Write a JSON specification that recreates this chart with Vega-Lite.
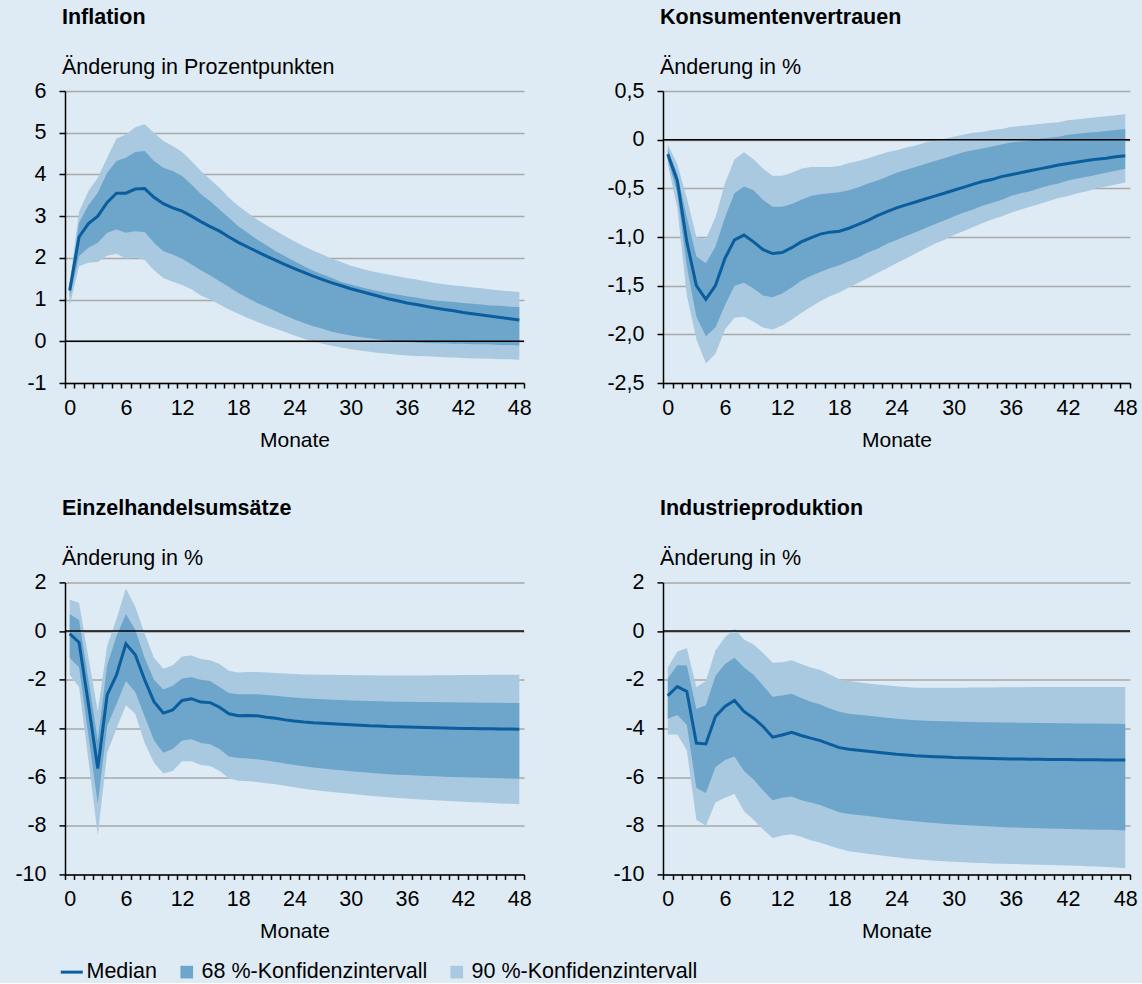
{
"$schema": "https://vega.github.io/schema/vega-lite/v6.json",
"background": "#deebf4",
"padding": {"left": 14, "top": 7, "right": 5, "bottom": 0},
"bounds": "flush",
"columns": 2,
"spacing": {"column": 139, "row": 199.4},
"resolve": {"scale": {"x": "independent", "y": "independent"}},
"datasets": {"d": [
{"p":"I","m":0,"md":1.22,"l68":1.05,"h68":1.32,"l90":0.85,"h90":1.4},
{"p":"I","m":1,"md":2.5,"l68":2.04,"h68":2.84,"l90":1.8,"h90":3.1},
{"p":"I","m":2,"md":2.82,"l68":2.24,"h68":3.26,"l90":1.88,"h90":3.6},
{"p":"I","m":3,"md":3.0,"l68":2.36,"h68":3.56,"l90":1.9,"h90":3.92},
{"p":"I","m":4,"md":3.33,"l68":2.6,"h68":4.04,"l90":2.05,"h90":4.4},
{"p":"I","m":5,"md":3.55,"l68":2.68,"h68":4.32,"l90":2.1,"h90":4.86},
{"p":"I","m":6,"md":3.55,"l68":2.6,"h68":4.4,"l90":1.98,"h90":4.96},
{"p":"I","m":7,"md":3.65,"l68":2.64,"h68":4.54,"l90":2.0,"h90":5.13},
{"p":"I","m":8,"md":3.66,"l68":2.62,"h68":4.56,"l90":1.95,"h90":5.2},
{"p":"I","m":9,"md":3.45,"l68":2.36,"h68":4.32,"l90":1.7,"h90":5.0},
{"p":"I","m":10,"md":3.3,"l68":2.16,"h68":4.16,"l90":1.52,"h90":4.8},
{"p":"I","m":11,"md":3.2,"l68":2.08,"h68":4.08,"l90":1.43,"h90":4.68},
{"p":"I","m":12,"md":3.12,"l68":1.98,"h68":3.96,"l90":1.35,"h90":4.54},
{"p":"I","m":13,"md":3.0,"l68":1.84,"h68":3.76,"l90":1.25,"h90":4.32},
{"p":"I","m":14,"md":2.87,"l68":1.7,"h68":3.53,"l90":1.1,"h90":4.08},
{"p":"I","m":15,"md":2.75,"l68":1.58,"h68":3.36,"l90":1.0,"h90":3.88},
{"p":"I","m":16,"md":2.64,"l68":1.44,"h68":3.16,"l90":0.88,"h90":3.68},
{"p":"I","m":17,"md":2.5,"l68":1.3,"h68":2.96,"l90":0.76,"h90":3.44},
{"p":"I","m":18,"md":2.37,"l68":1.16,"h68":2.76,"l90":0.66,"h90":3.25},
{"p":"I","m":19,"md":2.26,"l68":1.04,"h68":2.6,"l90":0.56,"h90":3.08},
{"p":"I","m":20,"md":2.15,"l68":0.92,"h68":2.44,"l90":0.47,"h90":2.92},
{"p":"I","m":21,"md":2.04,"l68":0.82,"h68":2.3,"l90":0.38,"h90":2.78},
{"p":"I","m":22,"md":1.94,"l68":0.72,"h68":2.16,"l90":0.3,"h90":2.65},
{"p":"I","m":23,"md":1.84,"l68":0.62,"h68":2.04,"l90":0.22,"h90":2.52},
{"p":"I","m":24,"md":1.74,"l68":0.52,"h68":1.92,"l90":0.14,"h90":2.4},
{"p":"I","m":25,"md":1.65,"l68":0.44,"h68":1.8,"l90":0.06,"h90":2.28},
{"p":"I","m":26,"md":1.56,"l68":0.36,"h68":1.69,"l90":0.0,"h90":2.17},
{"p":"I","m":27,"md":1.48,"l68":0.3,"h68":1.6,"l90":-0.06,"h90":2.08},
{"p":"I","m":28,"md":1.4,"l68":0.23,"h68":1.52,"l90":-0.11,"h90":1.98},
{"p":"I","m":29,"md":1.33,"l68":0.18,"h68":1.42,"l90":-0.15,"h90":1.9},
{"p":"I","m":30,"md":1.26,"l68":0.14,"h68":1.36,"l90":-0.19,"h90":1.81},
{"p":"I","m":31,"md":1.2,"l68":0.1,"h68":1.3,"l90":-0.22,"h90":1.75},
{"p":"I","m":32,"md":1.14,"l68":0.07,"h68":1.25,"l90":-0.25,"h90":1.69},
{"p":"I","m":33,"md":1.08,"l68":0.04,"h68":1.2,"l90":-0.28,"h90":1.64},
{"p":"I","m":34,"md":1.02,"l68":0.02,"h68":1.16,"l90":-0.3,"h90":1.6},
{"p":"I","m":35,"md":0.97,"l68":0.0,"h68":1.12,"l90":-0.32,"h90":1.56},
{"p":"I","m":36,"md":0.92,"l68":-0.02,"h68":1.08,"l90":-0.34,"h90":1.52},
{"p":"I","m":37,"md":0.88,"l68":-0.03,"h68":1.05,"l90":-0.35,"h90":1.48},
{"p":"I","m":38,"md":0.84,"l68":-0.04,"h68":1.01,"l90":-0.36,"h90":1.44},
{"p":"I","m":39,"md":0.8,"l68":-0.05,"h68":0.98,"l90":-0.37,"h90":1.4},
{"p":"I","m":40,"md":0.76,"l68":-0.05,"h68":0.96,"l90":-0.38,"h90":1.37},
{"p":"I","m":41,"md":0.73,"l68":-0.06,"h68":0.94,"l90":-0.39,"h90":1.34},
{"p":"I","m":42,"md":0.69,"l68":-0.06,"h68":0.92,"l90":-0.4,"h90":1.32},
{"p":"I","m":43,"md":0.66,"l68":-0.07,"h68":0.9,"l90":-0.41,"h90":1.29},
{"p":"I","m":44,"md":0.63,"l68":-0.07,"h68":0.88,"l90":-0.41,"h90":1.27},
{"p":"I","m":45,"md":0.6,"l68":-0.08,"h68":0.86,"l90":-0.42,"h90":1.24},
{"p":"I","m":46,"md":0.57,"l68":-0.09,"h68":0.85,"l90":-0.43,"h90":1.22},
{"p":"I","m":47,"md":0.54,"l68":-0.09,"h68":0.83,"l90":-0.43,"h90":1.2},
{"p":"I","m":48,"md":0.51,"l68":-0.1,"h68":0.82,"l90":-0.44,"h90":1.18},
{"p":"K","m":0,"md":-0.15,"l68":-0.2,"h68":-0.1,"l90":-0.25,"h90":-0.05},
{"p":"K","m":1,"md":-0.42,"l68":-0.55,"h68":-0.35,"l90":-0.7,"h90":-0.25},
{"p":"K","m":2,"md":-1.05,"l68":-1.3,"h68":-0.8,"l90":-1.6,"h90":-0.6},
{"p":"K","m":3,"md":-1.5,"l68":-1.82,"h68":-1.2,"l90":-2.05,"h90":-1.0},
{"p":"K","m":4,"md":-1.64,"l68":-2.02,"h68":-1.27,"l90":-2.3,"h90":-1.02},
{"p":"K","m":5,"md":-1.5,"l68":-1.93,"h68":-1.1,"l90":-2.2,"h90":-0.8},
{"p":"K","m":6,"md":-1.22,"l68":-1.7,"h68":-0.8,"l90":-1.95,"h90":-0.45},
{"p":"K","m":7,"md":-1.03,"l68":-1.5,"h68":-0.55,"l90":-1.83,"h90":-0.2},
{"p":"K","m":8,"md":-0.98,"l68":-1.47,"h68":-0.48,"l90":-1.82,"h90":-0.13},
{"p":"K","m":9,"md":-1.05,"l68":-1.53,"h68":-0.52,"l90":-1.87,"h90":-0.2},
{"p":"K","m":10,"md":-1.13,"l68":-1.6,"h68":-0.62,"l90":-1.93,"h90":-0.3},
{"p":"K","m":11,"md":-1.17,"l68":-1.62,"h68":-0.69,"l90":-1.95,"h90":-0.37},
{"p":"K","m":12,"md":-1.16,"l68":-1.58,"h68":-0.69,"l90":-1.91,"h90":-0.37},
{"p":"K","m":13,"md":-1.11,"l68":-1.52,"h68":-0.66,"l90":-1.85,"h90":-0.34},
{"p":"K","m":14,"md":-1.05,"l68":-1.45,"h68":-0.62,"l90":-1.78,"h90":-0.3},
{"p":"K","m":15,"md":-1.01,"l68":-1.4,"h68":-0.58,"l90":-1.72,"h90":-0.28},
{"p":"K","m":16,"md":-0.97,"l68":-1.36,"h68":-0.56,"l90":-1.66,"h90":-0.28},
{"p":"K","m":17,"md":-0.95,"l68":-1.32,"h68":-0.55,"l90":-1.61,"h90":-0.28},
{"p":"K","m":18,"md":-0.94,"l68":-1.29,"h68":-0.54,"l90":-1.57,"h90":-0.27},
{"p":"K","m":19,"md":-0.91,"l68":-1.25,"h68":-0.52,"l90":-1.52,"h90":-0.24},
{"p":"K","m":20,"md":-0.87,"l68":-1.21,"h68":-0.49,"l90":-1.47,"h90":-0.22},
{"p":"K","m":21,"md":-0.83,"l68":-1.16,"h68":-0.45,"l90":-1.42,"h90":-0.19},
{"p":"K","m":22,"md":-0.78,"l68":-1.12,"h68":-0.42,"l90":-1.37,"h90":-0.16},
{"p":"K","m":23,"md":-0.74,"l68":-1.07,"h68":-0.38,"l90":-1.32,"h90":-0.13},
{"p":"K","m":24,"md":-0.7,"l68":-1.03,"h68":-0.34,"l90":-1.27,"h90":-0.11},
{"p":"K","m":25,"md":-0.67,"l68":-0.99,"h68":-0.31,"l90":-1.22,"h90":-0.08},
{"p":"K","m":26,"md":-0.64,"l68":-0.95,"h68":-0.28,"l90":-1.17,"h90":-0.06},
{"p":"K","m":27,"md":-0.61,"l68":-0.91,"h68":-0.25,"l90":-1.12,"h90":-0.03},
{"p":"K","m":28,"md":-0.58,"l68":-0.87,"h68":-0.22,"l90":-1.07,"h90":-0.01},
{"p":"K","m":29,"md":-0.55,"l68":-0.83,"h68":-0.19,"l90":-1.03,"h90":0.01},
{"p":"K","m":30,"md":-0.52,"l68":-0.79,"h68":-0.16,"l90":-0.98,"h90":0.03},
{"p":"K","m":31,"md":-0.49,"l68":-0.75,"h68":-0.13,"l90":-0.94,"h90":0.05},
{"p":"K","m":32,"md":-0.46,"l68":-0.72,"h68":-0.11,"l90":-0.9,"h90":0.07},
{"p":"K","m":33,"md":-0.43,"l68":-0.68,"h68":-0.09,"l90":-0.86,"h90":0.08},
{"p":"K","m":34,"md":-0.41,"l68":-0.65,"h68":-0.07,"l90":-0.82,"h90":0.1},
{"p":"K","m":35,"md":-0.38,"l68":-0.62,"h68":-0.05,"l90":-0.79,"h90":0.11},
{"p":"K","m":36,"md":-0.36,"l68":-0.58,"h68":-0.03,"l90":-0.75,"h90":0.13},
{"p":"K","m":37,"md":-0.34,"l68":-0.55,"h68":-0.02,"l90":-0.72,"h90":0.14},
{"p":"K","m":38,"md":-0.32,"l68":-0.53,"h68":-0.01,"l90":-0.69,"h90":0.15},
{"p":"K","m":39,"md":-0.3,"l68":-0.5,"h68":0.01,"l90":-0.66,"h90":0.16},
{"p":"K","m":40,"md":-0.28,"l68":-0.47,"h68":0.02,"l90":-0.63,"h90":0.17},
{"p":"K","m":41,"md":-0.26,"l68":-0.45,"h68":0.03,"l90":-0.6,"h90":0.18},
{"p":"K","m":42,"md":-0.245,"l68":-0.42,"h68":0.05,"l90":-0.58,"h90":0.2},
{"p":"K","m":43,"md":-0.23,"l68":-0.4,"h68":0.06,"l90":-0.55,"h90":0.21},
{"p":"K","m":44,"md":-0.215,"l68":-0.38,"h68":0.07,"l90":-0.53,"h90":0.22},
{"p":"K","m":45,"md":-0.2,"l68":-0.36,"h68":0.08,"l90":-0.5,"h90":0.23},
{"p":"K","m":46,"md":-0.19,"l68":-0.34,"h68":0.09,"l90":-0.48,"h90":0.24},
{"p":"K","m":47,"md":-0.175,"l68":-0.32,"h68":0.1,"l90":-0.46,"h90":0.25},
{"p":"K","m":48,"md":-0.165,"l68":-0.3,"h68":0.11,"l90":-0.44,"h90":0.26},
{"p":"E","m":0,"md":-0.11,"l68":-1.1,"h68":0.7,"l90":-1.8,"h90":1.3},
{"p":"E","m":1,"md":-0.47,"l68":-1.5,"h68":0.45,"l90":-2.3,"h90":1.15},
{"p":"E","m":2,"md":-3.0,"l68":-4.3,"h68":-2.0,"l90":-5.3,"h90":-1.1},
{"p":"E","m":3,"md":-5.65,"l68":-7.1,"h68":-4.5,"l90":-8.4,"h90":-3.3},
{"p":"E","m":4,"md":-2.62,"l68":-3.9,"h68":-1.4,"l90":-5.0,"h90":-0.6},
{"p":"E","m":5,"md":-1.8,"l68":-3.0,"h68":-0.2,"l90":-4.0,"h90":0.5},
{"p":"E","m":6,"md":-0.52,"l68":-2.05,"h68":0.7,"l90":-3.05,"h90":1.75},
{"p":"E","m":7,"md":-0.97,"l68":-2.5,"h68":0.05,"l90":-3.4,"h90":1.0},
{"p":"E","m":8,"md":-2.0,"l68":-3.5,"h68":-1.1,"l90":-4.6,"h90":-0.1},
{"p":"E","m":9,"md":-2.9,"l68":-4.5,"h68":-2.0,"l90":-5.4,"h90":-1.1},
{"p":"E","m":10,"md":-3.37,"l68":-5.0,"h68":-2.4,"l90":-5.85,"h90":-1.55},
{"p":"E","m":11,"md":-3.24,"l68":-4.85,"h68":-2.25,"l90":-5.75,"h90":-1.4},
{"p":"E","m":12,"md":-2.85,"l68":-4.5,"h68":-1.95,"l90":-5.35,"h90":-1.05},
{"p":"E","m":13,"md":-2.78,"l68":-4.45,"h68":-1.9,"l90":-5.35,"h90":-1.0},
{"p":"E","m":14,"md":-2.92,"l68":-4.6,"h68":-2.0,"l90":-5.5,"h90":-1.15},
{"p":"E","m":15,"md":-2.94,"l68":-4.65,"h68":-2.05,"l90":-5.55,"h90":-1.2},
{"p":"E","m":16,"md":-3.13,"l68":-4.85,"h68":-2.3,"l90":-5.75,"h90":-1.35},
{"p":"E","m":17,"md":-3.4,"l68":-5.15,"h68":-2.55,"l90":-6.05,"h90":-1.63},
{"p":"E","m":18,"md":-3.48,"l68":-5.22,"h68":-2.6,"l90":-6.15,"h90":-1.7},
{"p":"E","m":19,"md":-3.47,"l68":-5.24,"h68":-2.6,"l90":-6.17,"h90":-1.68},
{"p":"E","m":20,"md":-3.48,"l68":-5.27,"h68":-2.6,"l90":-6.2,"h90":-1.68},
{"p":"E","m":21,"md":-3.54,"l68":-5.32,"h68":-2.63,"l90":-6.25,"h90":-1.7},
{"p":"E","m":22,"md":-3.58,"l68":-5.38,"h68":-2.66,"l90":-6.3,"h90":-1.72},
{"p":"E","m":23,"md":-3.65,"l68":-5.44,"h68":-2.7,"l90":-6.36,"h90":-1.74},
{"p":"E","m":24,"md":-3.7,"l68":-5.5,"h68":-2.73,"l90":-6.42,"h90":-1.76},
{"p":"E","m":25,"md":-3.74,"l68":-5.56,"h68":-2.76,"l90":-6.48,"h90":-1.78},
{"p":"E","m":26,"md":-3.77,"l68":-5.61,"h68":-2.78,"l90":-6.53,"h90":-1.79},
{"p":"E","m":27,"md":-3.79,"l68":-5.65,"h68":-2.8,"l90":-6.57,"h90":-1.8},
{"p":"E","m":28,"md":-3.81,"l68":-5.69,"h68":-2.82,"l90":-6.61,"h90":-1.8},
{"p":"E","m":29,"md":-3.83,"l68":-5.72,"h68":-2.83,"l90":-6.65,"h90":-1.81},
{"p":"E","m":30,"md":-3.85,"l68":-5.76,"h68":-2.85,"l90":-6.69,"h90":-1.81},
{"p":"E","m":31,"md":-3.87,"l68":-5.79,"h68":-2.86,"l90":-6.73,"h90":-1.82},
{"p":"E","m":32,"md":-3.89,"l68":-5.82,"h68":-2.87,"l90":-6.77,"h90":-1.82},
{"p":"E","m":33,"md":-3.9,"l68":-5.85,"h68":-2.88,"l90":-6.8,"h90":-1.83},
{"p":"E","m":34,"md":-3.92,"l68":-5.88,"h68":-2.89,"l90":-6.83,"h90":-1.83},
{"p":"E","m":35,"md":-3.93,"l68":-5.9,"h68":-2.9,"l90":-6.86,"h90":-1.83},
{"p":"E","m":36,"md":-3.94,"l68":-5.92,"h68":-2.9,"l90":-6.88,"h90":-1.83},
{"p":"E","m":37,"md":-3.95,"l68":-5.94,"h68":-2.91,"l90":-6.91,"h90":-1.83},
{"p":"E","m":38,"md":-3.96,"l68":-5.96,"h68":-2.92,"l90":-6.93,"h90":-1.83},
{"p":"E","m":39,"md":-3.97,"l68":-5.97,"h68":-2.92,"l90":-6.95,"h90":-1.82},
{"p":"E","m":40,"md":-3.98,"l68":-5.99,"h68":-2.93,"l90":-6.97,"h90":-1.82},
{"p":"E","m":41,"md":-3.99,"l68":-6.0,"h68":-2.93,"l90":-6.99,"h90":-1.82},
{"p":"E","m":42,"md":-4.0,"l68":-6.01,"h68":-2.94,"l90":-7.01,"h90":-1.81},
{"p":"E","m":43,"md":-4.0,"l68":-6.02,"h68":-2.94,"l90":-7.03,"h90":-1.81},
{"p":"E","m":44,"md":-4.01,"l68":-6.03,"h68":-2.95,"l90":-7.05,"h90":-1.81},
{"p":"E","m":45,"md":-4.01,"l68":-6.04,"h68":-2.95,"l90":-7.07,"h90":-1.8},
{"p":"E","m":46,"md":-4.02,"l68":-6.05,"h68":-2.95,"l90":-7.09,"h90":-1.8},
{"p":"E","m":47,"md":-4.02,"l68":-6.06,"h68":-2.96,"l90":-7.1,"h90":-1.8},
{"p":"E","m":48,"md":-4.03,"l68":-6.07,"h68":-2.96,"l90":-7.12,"h90":-1.8},
{"p":"P","m":0,"md":-2.66,"l68":-3.6,"h68":-1.95,"l90":-4.25,"h90":-1.5},
{"p":"P","m":1,"md":-2.28,"l68":-3.45,"h68":-1.4,"l90":-4.25,"h90":-0.85},
{"p":"P","m":2,"md":-2.48,"l68":-3.85,"h68":-1.42,"l90":-4.9,"h90":-0.7},
{"p":"P","m":3,"md":-4.6,"l68":-6.45,"h68":-3.2,"l90":-7.75,"h90":-2.3},
{"p":"P","m":4,"md":-4.64,"l68":-6.65,"h68":-3.05,"l90":-8.0,"h90":-2.05},
{"p":"P","m":5,"md":-3.51,"l68":-5.6,"h68":-1.85,"l90":-7.05,"h90":-0.8},
{"p":"P","m":6,"md":-3.1,"l68":-5.3,"h68":-1.35,"l90":-6.85,"h90":-0.25},
{"p":"P","m":7,"md":-2.85,"l68":-5.15,"h68":-1.1,"l90":-6.7,"h90":0.1},
{"p":"P","m":8,"md":-3.3,"l68":-5.75,"h68":-1.5,"l90":-7.4,"h90":-0.35},
{"p":"P","m":9,"md":-3.58,"l68":-6.1,"h68":-1.8,"l90":-7.75,"h90":-0.55},
{"p":"P","m":10,"md":-3.92,"l68":-6.55,"h68":-2.25,"l90":-8.15,"h90":-0.9},
{"p":"P","m":11,"md":-4.36,"l68":-6.95,"h68":-2.7,"l90":-8.5,"h90":-1.3},
{"p":"P","m":12,"md":-4.27,"l68":-6.85,"h68":-2.65,"l90":-8.4,"h90":-1.28},
{"p":"P","m":13,"md":-4.16,"l68":-6.8,"h68":-2.58,"l90":-8.35,"h90":-1.2},
{"p":"P","m":14,"md":-4.29,"l68":-6.95,"h68":-2.75,"l90":-8.45,"h90":-1.35},
{"p":"P","m":15,"md":-4.4,"l68":-7.05,"h68":-2.9,"l90":-8.6,"h90":-1.5},
{"p":"P","m":16,"md":-4.5,"l68":-7.15,"h68":-3.02,"l90":-8.7,"h90":-1.6},
{"p":"P","m":17,"md":-4.65,"l68":-7.3,"h68":-3.18,"l90":-8.82,"h90":-1.78},
{"p":"P","m":18,"md":-4.79,"l68":-7.45,"h68":-3.32,"l90":-8.95,"h90":-1.98},
{"p":"P","m":19,"md":-4.86,"l68":-7.52,"h68":-3.4,"l90":-9.05,"h90":-2.05},
{"p":"P","m":20,"md":-4.9,"l68":-7.56,"h68":-3.44,"l90":-9.1,"h90":-2.1},
{"p":"P","m":21,"md":-4.94,"l68":-7.6,"h68":-3.48,"l90":-9.15,"h90":-2.15},
{"p":"P","m":22,"md":-4.98,"l68":-7.65,"h68":-3.52,"l90":-9.2,"h90":-2.2},
{"p":"P","m":23,"md":-5.02,"l68":-7.7,"h68":-3.56,"l90":-9.25,"h90":-2.23},
{"p":"P","m":24,"md":-5.06,"l68":-7.74,"h68":-3.6,"l90":-9.3,"h90":-2.27},
{"p":"P","m":25,"md":-5.09,"l68":-7.78,"h68":-3.63,"l90":-9.35,"h90":-2.3},
{"p":"P","m":26,"md":-5.12,"l68":-7.82,"h68":-3.66,"l90":-9.38,"h90":-2.33},
{"p":"P","m":27,"md":-5.14,"l68":-7.86,"h68":-3.69,"l90":-9.41,"h90":-2.33},
{"p":"P","m":28,"md":-5.16,"l68":-7.89,"h68":-3.7,"l90":-9.44,"h90":-2.33},
{"p":"P","m":29,"md":-5.18,"l68":-7.92,"h68":-3.71,"l90":-9.46,"h90":-2.33},
{"p":"P","m":30,"md":-5.2,"l68":-7.95,"h68":-3.72,"l90":-9.48,"h90":-2.33},
{"p":"P","m":31,"md":-5.21,"l68":-7.97,"h68":-3.73,"l90":-9.5,"h90":-2.33},
{"p":"P","m":32,"md":-5.22,"l68":-7.99,"h68":-3.74,"l90":-9.52,"h90":-2.32},
{"p":"P","m":33,"md":-5.23,"l68":-8.01,"h68":-3.75,"l90":-9.53,"h90":-2.32},
{"p":"P","m":34,"md":-5.24,"l68":-8.03,"h68":-3.75,"l90":-9.55,"h90":-2.32},
{"p":"P","m":35,"md":-5.25,"l68":-8.05,"h68":-3.76,"l90":-9.56,"h90":-2.31},
{"p":"P","m":36,"md":-5.26,"l68":-8.07,"h68":-3.76,"l90":-9.57,"h90":-2.31},
{"p":"P","m":37,"md":-5.26,"l68":-8.08,"h68":-3.77,"l90":-9.58,"h90":-2.31},
{"p":"P","m":38,"md":-5.27,"l68":-8.09,"h68":-3.77,"l90":-9.59,"h90":-2.3},
{"p":"P","m":39,"md":-5.27,"l68":-8.1,"h68":-3.78,"l90":-9.6,"h90":-2.3},
{"p":"P","m":40,"md":-5.28,"l68":-8.11,"h68":-3.78,"l90":-9.61,"h90":-2.3},
{"p":"P","m":41,"md":-5.28,"l68":-8.12,"h68":-3.79,"l90":-9.62,"h90":-2.3},
{"p":"P","m":42,"md":-5.28,"l68":-8.13,"h68":-3.79,"l90":-9.63,"h90":-2.3},
{"p":"P","m":43,"md":-5.29,"l68":-8.14,"h68":-3.8,"l90":-9.64,"h90":-2.3},
{"p":"P","m":44,"md":-5.29,"l68":-8.15,"h68":-3.8,"l90":-9.66,"h90":-2.3},
{"p":"P","m":45,"md":-5.29,"l68":-8.16,"h68":-3.8,"l90":-9.68,"h90":-2.3},
{"p":"P","m":46,"md":-5.3,"l68":-8.17,"h68":-3.81,"l90":-9.7,"h90":-2.3},
{"p":"P","m":47,"md":-5.3,"l68":-8.18,"h68":-3.81,"l90":-9.72,"h90":-2.3},
{"p":"P","m":48,"md":-5.3,"l68":-8.2,"h68":-3.82,"l90":-9.75,"h90":-2.3}
]},
"data": {"name": "d"},
"concat": [
{
 "width": 459, "height": 292,
 "title": {"text": "Inflation", "subtitle": "Änderung in Prozentpunkten"},
 "transform": [{"filter": "datum.p == 'I'"}],
 "resolve": {"axis": {"x": "independent"}},
 "layer": [
  {"mark": "area", "encoding": {
    "x": {"field": "m", "type": "quantitative", "scale": {"domain": [-0.5, 48.5], "nice": false, "zero": false}, "axis": {"orient": "bottom", "values": [-0.5,0.5,1.5,2.5,3.5,4.5,5.5,6.5,7.5,8.5,9.5,10.5,11.5,12.5,13.5,14.5,15.5,16.5,17.5,18.5,19.5,20.5,21.5,22.5,23.5,24.5,25.5,26.5,27.5,28.5,29.5,30.5,31.5,32.5,33.5,34.5,35.5,36.5,37.5,38.5,39.5,40.5,41.5,42.5,43.5,44.5,45.5,46.5,47.5,48.5], "labels": false, "ticks": true, "domain": true, "grid": false, "title": null}},
    "y": {"field": "l90", "type": "quantitative", "scale": {"domain": [-1, 6], "nice": false, "zero": false}, "axis": {"values": [-1,0,1,2,3,4,5,6], "grid": true, "title": null, "labelExpr": "(datum.value < 0 ? '-' : '') + format(abs(datum.value), 'd')"}},
    "y2": {"field": "h90"},
    "color": {"datum": "90 %-Konfidenzintervall", "scale": {"domain": ["Median", "68 %-Konfidenzintervall", "90 %-Konfidenzintervall"], "range": ["#0b5e9d", "#6ea5cb", "#a9c9e0"]}, "legend": {"orient": "none", "legendX": -4, "legendY": 870, "direction": "horizontal", "title": null, "labelLimit": 0, "encode": {"symbols": {"update": {"shape": {"signal": "datum.value === 'Median' ? 'stroke' : 'square'"}, "size": {"signal": "datum.value === 'Median' ? 484 : 160"}, "strokeWidth": {"signal": "datum.value === 'Median' ? 3 : 0"}, "fill": {"scale": "color", "field": "value"}, "stroke": {"scale": "color", "field": "value"}, "opacity": {"value": 1}}}}}}
  }},
  {"mark": "area", "encoding": {
    "x": {"field": "m", "type": "quantitative", "axis": null},
    "y": {"field": "l68", "type": "quantitative"},
    "y2": {"field": "h68"},
    "color": {"datum": "68 %-Konfidenzintervall"}
  }},
  {"mark": {"type": "line", "strokeWidth": 3}, "encoding": {
    "x": {"field": "m", "type": "quantitative", "axis": {"orient": "bottom", "values": [0,6,12,18,24,30,36,42,48], "ticks": false, "domain": false, "grid": false, "title": "Monate", "labelOverlap": false, "labelFlush": false}},
    "y": {"field": "md", "type": "quantitative"},
    "color": {"datum": "Median"}
  }},
  {"data": {"values": [{}]}, "mark": {"type": "rule", "color": "black", "strokeWidth": 1.5}, "encoding": {"y": {"datum": 0}}}
 ]
},
{
 "width": 467, "height": 292,
 "title": {"text": "Konsumentenvertrauen", "subtitle": "Änderung in %"},
 "transform": [{"filter": "datum.p == 'K'"}],
 "resolve": {"axis": {"x": "independent"}},
 "layer": [
  {"mark": "area", "encoding": {
    "x": {"field": "m", "type": "quantitative", "scale": {"domain": [-0.5, 48.5], "nice": false, "zero": false}, "axis": {"orient": "bottom", "values": [-0.5,0.5,1.5,2.5,3.5,4.5,5.5,6.5,7.5,8.5,9.5,10.5,11.5,12.5,13.5,14.5,15.5,16.5,17.5,18.5,19.5,20.5,21.5,22.5,23.5,24.5,25.5,26.5,27.5,28.5,29.5,30.5,31.5,32.5,33.5,34.5,35.5,36.5,37.5,38.5,39.5,40.5,41.5,42.5,43.5,44.5,45.5,46.5,47.5,48.5], "labels": false, "ticks": true, "domain": true, "grid": false, "title": null}},
    "y": {"field": "l90", "type": "quantitative", "scale": {"domain": [-2.5, 0.5], "nice": false, "zero": false}, "axis": {"values": [-2.5,-2,-1.5,-1,-0.5,0,0.5], "grid": true, "title": null, "labelExpr": "datum.value == 0 ? '0' : (datum.value < 0 ? '-' : '') + replace(format(abs(datum.value), '.1f'), '.', ',')"}},
    "y2": {"field": "h90"},
    "color": {"datum": "90 %-Konfidenzintervall"}
  }},
  {"mark": "area", "encoding": {
    "x": {"field": "m", "type": "quantitative", "axis": null},
    "y": {"field": "l68", "type": "quantitative"},
    "y2": {"field": "h68"},
    "color": {"datum": "68 %-Konfidenzintervall"}
  }},
  {"mark": {"type": "line", "strokeWidth": 3}, "encoding": {
    "x": {"field": "m", "type": "quantitative", "axis": {"orient": "bottom", "values": [0,6,12,18,24,30,36,42,48], "ticks": false, "domain": false, "grid": false, "title": "Monate", "labelOverlap": false, "labelFlush": false}},
    "y": {"field": "md", "type": "quantitative"},
    "color": {"datum": "Median"}
  }},
  {"data": {"values": [{}]}, "mark": {"type": "rule", "color": "black", "strokeWidth": 1.5}, "encoding": {"y": {"datum": 0}}}
 ]
},
{
 "width": 459, "height": 292,
 "title": {"text": "Einzelhandelsumsätze", "subtitle": "Änderung in %"},
 "transform": [{"filter": "datum.p == 'E'"}],
 "resolve": {"axis": {"x": "independent"}},
 "layer": [
  {"mark": "area", "encoding": {
    "x": {"field": "m", "type": "quantitative", "scale": {"domain": [-0.5, 48.5], "nice": false, "zero": false}, "axis": {"orient": "bottom", "values": [-0.5,0.5,1.5,2.5,3.5,4.5,5.5,6.5,7.5,8.5,9.5,10.5,11.5,12.5,13.5,14.5,15.5,16.5,17.5,18.5,19.5,20.5,21.5,22.5,23.5,24.5,25.5,26.5,27.5,28.5,29.5,30.5,31.5,32.5,33.5,34.5,35.5,36.5,37.5,38.5,39.5,40.5,41.5,42.5,43.5,44.5,45.5,46.5,47.5,48.5], "labels": false, "ticks": true, "domain": true, "grid": false, "title": null}},
    "y": {"field": "l90", "type": "quantitative", "scale": {"domain": [-10, 2], "nice": false, "zero": false}, "axis": {"values": [-10,-8,-6,-4,-2,0,2], "grid": true, "title": null, "labelExpr": "(datum.value < 0 ? '-' : '') + format(abs(datum.value), 'd')"}},
    "y2": {"field": "h90"},
    "color": {"datum": "90 %-Konfidenzintervall"}
  }},
  {"mark": "area", "encoding": {
    "x": {"field": "m", "type": "quantitative", "axis": null},
    "y": {"field": "l68", "type": "quantitative"},
    "y2": {"field": "h68"},
    "color": {"datum": "68 %-Konfidenzintervall"}
  }},
  {"mark": {"type": "line", "strokeWidth": 3}, "encoding": {
    "x": {"field": "m", "type": "quantitative", "axis": {"orient": "bottom", "values": [0,6,12,18,24,30,36,42,48], "ticks": false, "domain": false, "grid": false, "title": "Monate", "labelOverlap": false, "labelFlush": false}},
    "y": {"field": "md", "type": "quantitative"},
    "color": {"datum": "Median"}
  }},
  {"data": {"values": [{}]}, "mark": {"type": "rule", "color": "black", "strokeWidth": 1.5}, "encoding": {"y": {"datum": 0}}}
 ]
},
{
 "width": 467, "height": 292,
 "title": {"text": "Industrieproduktion", "subtitle": "Änderung in %"},
 "transform": [{"filter": "datum.p == 'P'"}],
 "resolve": {"axis": {"x": "independent"}},
 "layer": [
  {"mark": "area", "encoding": {
    "x": {"field": "m", "type": "quantitative", "scale": {"domain": [-0.5, 48.5], "nice": false, "zero": false}, "axis": {"orient": "bottom", "values": [-0.5,0.5,1.5,2.5,3.5,4.5,5.5,6.5,7.5,8.5,9.5,10.5,11.5,12.5,13.5,14.5,15.5,16.5,17.5,18.5,19.5,20.5,21.5,22.5,23.5,24.5,25.5,26.5,27.5,28.5,29.5,30.5,31.5,32.5,33.5,34.5,35.5,36.5,37.5,38.5,39.5,40.5,41.5,42.5,43.5,44.5,45.5,46.5,47.5,48.5], "labels": false, "ticks": true, "domain": true, "grid": false, "title": null}},
    "y": {"field": "l90", "type": "quantitative", "scale": {"domain": [-10, 2], "nice": false, "zero": false}, "axis": {"values": [-10,-8,-6,-4,-2,0,2], "grid": true, "title": null, "labelExpr": "(datum.value < 0 ? '-' : '') + format(abs(datum.value), 'd')"}},
    "y2": {"field": "h90"},
    "color": {"datum": "90 %-Konfidenzintervall"}
  }},
  {"mark": "area", "encoding": {
    "x": {"field": "m", "type": "quantitative", "axis": null},
    "y": {"field": "l68", "type": "quantitative"},
    "y2": {"field": "h68"},
    "color": {"datum": "68 %-Konfidenzintervall"}
  }},
  {"mark": {"type": "line", "strokeWidth": 3}, "encoding": {
    "x": {"field": "m", "type": "quantitative", "axis": {"orient": "bottom", "values": [0,6,12,18,24,30,36,42,48], "ticks": false, "domain": false, "grid": false, "title": "Monate", "labelOverlap": false, "labelFlush": false}},
    "y": {"field": "md", "type": "quantitative"},
    "color": {"datum": "Median"}
  }},
  {"data": {"values": [{}]}, "mark": {"type": "rule", "color": "black", "strokeWidth": 1.5}, "encoding": {"y": {"datum": 0}}}
 ]
}
],
"config": {
 "font": "Liberation Sans",
 "view": {"stroke": null},
 "area": {"opacity": 1},
 "title": {"anchor": "start", "frame": "group", "dx": -3, "font": "Liberation Sans", "fontSize": 21.5, "fontWeight": "bold", "color": "#000000", "subtitleFont": "Liberation Sans", "subtitleFontSize": 21.5, "subtitleFontWeight": "normal", "subtitleColor": "#000000", "offset": 2, "subtitlePadding": 28},
 "axis": {"labelFont": "Liberation Sans", "labelFontSize": 21.5, "labelColor": "#000000", "titleFont": "Liberation Sans", "titleFontSize": 21, "titleFontWeight": "normal", "titleColor": "#000000", "domainColor": "#000000", "domainWidth": 1.5, "tickColor": "#000000", "tickWidth": 1.5, "gridColor": "#a9a9a9", "gridWidth": 1.5},
 "axisX": {"tickSize": 5, "labelPadding": 14, "titlePadding": 11},
 "axisY": {"tickSize": 6, "labelPadding": 13},
 "legend": {"labelFont": "Liberation Sans", "labelFontSize": 21.5, "labelColor": "#000000", "padding": 0, "columnPadding": 18, "labelOffset": 4, "labelLimit": 0}
}
}
